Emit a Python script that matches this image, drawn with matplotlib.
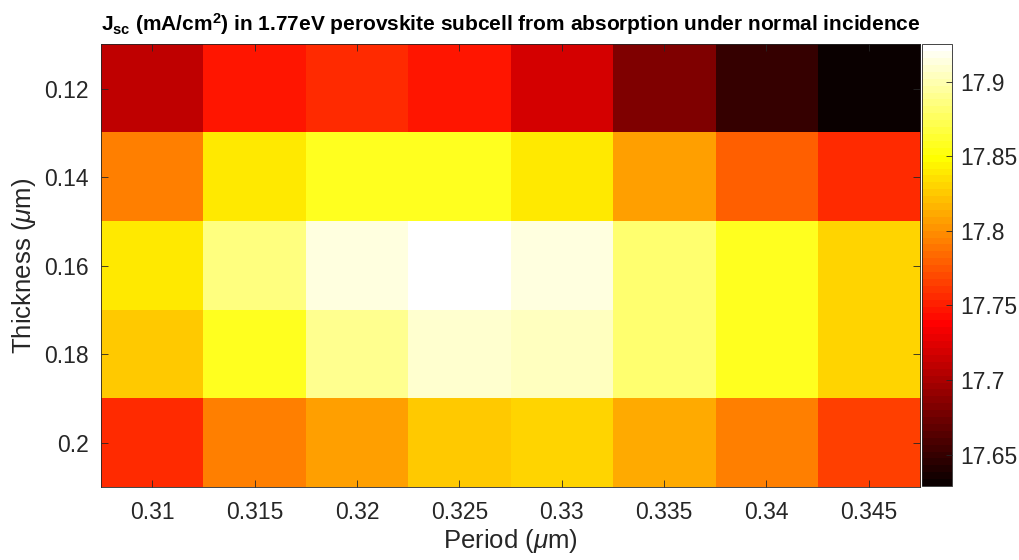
import numpy as np
import matplotlib.pyplot as plt
from matplotlib.colors import ListedColormap

plt.rcParams['font.family'] = ['Liberation Sans', 'DejaVu Sans']
plt.rcParams['mathtext.fontset'] = 'custom'
plt.rcParams['mathtext.rm'] = 'Liberation Sans'
plt.rcParams['mathtext.it'] = 'Liberation Sans:italic'
plt.rcParams['mathtext.bf'] = 'Liberation Sans:bold'

# data
period = [0.31, 0.315, 0.32, 0.325, 0.33, 0.335, 0.34, 0.345]
thickness = [0.12, 0.14, 0.16, 0.18, 0.2]
jsc = [
    [17.710, 17.747, 17.758, 17.747, 17.719, 17.682, 17.650, 17.631],
    [17.794, 17.838, 17.859, 17.859, 17.840, 17.807, 17.780, 17.756],
    [17.838, 17.886, 17.914, 17.923, 17.912, 17.882, 17.859, 17.831],
    [17.824, 17.859, 17.891, 17.907, 17.905, 17.882, 17.859, 17.831],
    [17.754, 17.794, 17.807, 17.826, 17.831, 17.814, 17.794, 17.766],
]
xtick_labels = ['0.31', '0.315', '0.32', '0.325', '0.33', '0.335', '0.34', '0.345']
ytick_labels = ['0.12', '0.14', '0.16', '0.18', '0.2']
cbar_ticks = [17.65, 17.7, 17.75, 17.8, 17.85, 17.9]
cbar_labels = ['17.65', '17.7', '17.75', '17.8', '17.85', '17.9']

# MATLAB style hot(64)
m = 64
n = int(3 / 8 * m)
r = np.concatenate([np.arange(1, n + 1) / n, np.ones(m - n)])
g = np.concatenate([np.zeros(n), np.arange(1, n + 1) / n, np.ones(m - 2 * n)])
b = np.concatenate([np.zeros(2 * n), np.arange(1, m - 2 * n + 1) / (m - 2 * n)])
hot64 = ListedColormap(np.column_stack([r, g, b]))

fig = plt.figure(figsize=(10.2, 5.6), dpi=100)
ax = fig.add_axes([0.099, 0.130, 0.803, 0.791])
cax = fig.add_axes([0.904, 0.132, 0.029, 0.789])

dx = (period[1] - period[0]) / 2
dy = (thickness[1] - thickness[0]) / 2
im = ax.imshow(np.array(jsc), cmap=hot64, aspect='auto', origin='upper',
               extent=[period[0] - dx, period[-1] + dx, thickness[-1] + dy, thickness[0] - dy],
               vmin=17.629, vmax=17.925)

ax.set_xticks(period)
ax.set_xticklabels(xtick_labels)
ax.set_yticks(thickness)
ax.set_yticklabels(ytick_labels)
ax.tick_params(direction='in', top=True, right=True, labelsize=16.5, length=5,
               width=0.6, colors='#262626')
ax.tick_params(axis='x', pad=10)
ax.tick_params(axis='y', pad=9)
for s in ax.spines.values():
    s.set_color('#262626')
    s.set_linewidth(0.6)

ax.set_xlabel(r'Period ($\mu$m)', fontsize=18.5, color='#262626', labelpad=2)
ax.set_ylabel(r'Thickness ($\mu$m)', fontsize=18.5, color='#262626', labelpad=4)
ax.set_title(r'J$_{\mathbf{sc}}$ (mA/cm$^{\mathbf{2}}$) in 1.77eV perovskite subcell from absorption under normal incidence',
             fontsize=15, fontweight='bold', pad=10)

cb = fig.colorbar(im, cax=cax)
cb.set_ticks(cbar_ticks)
cb.set_ticklabels(cbar_labels)
cb.ax.tick_params(direction='in', labelsize=16.5, length=4, width=0.6, colors='#262626', pad=6)
cb.outline.set_edgecolor('#262626')
cb.outline.set_linewidth(0.6)

fig.savefig('out.png', dpi=100)
